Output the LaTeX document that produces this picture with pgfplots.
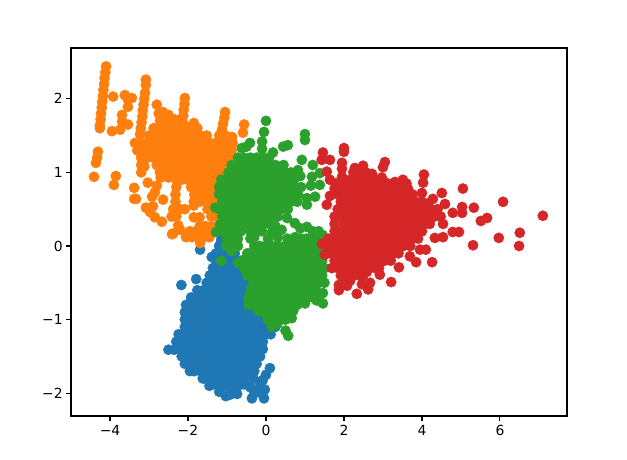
\documentclass[border=0pt]{standalone}
\usepackage{fontspec}
\setmainfont{DejaVu Sans}
\usepackage{pgfplots}
\pgfplotsset{compat=1.18}
\definecolor{tabblue}{HTML}{1F77B4}
\definecolor{taborange}{HTML}{FF7F0E}
\definecolor{tabgreen}{HTML}{2CA02C}
\definecolor{tabred}{HTML}{D62728}
\pgfplotsset{pts/.style={only marks,mark=*,mark size=5.15bp,color=#1,mark options={draw=none,fill=#1}}}
\begin{document}
\begin{tikzpicture}
\path[use as bounding box] (0,0) rectangle (627bp,460bp);
\begin{axis}[at={(71bp,44bp)},anchor=south west,scale only axis,width=496bp,height=368bp,
 xmin=-5,xmax=7.72,ymin=-2.31,ymax=2.69,
 xtick={-4,-2,0,2,4,6},xticklabels={−4,−2,0,2,4,6},
 ytick={-2,-1,0,1,2},yticklabels={−2,−1,0,1,2},
 tick align=outside,tick pos=left,major tick length=4.86bp,
 tick style={black,line width=1.1bp},axis line style={line width=1.1bp},
 ticklabel style={font=\fontsize{13.9bp}{16bp}\selectfont},
 xticklabel style={yshift=-1bp},
]
% blue
\addplot[pts=tabblue] coordinates {
(-2.17,-0.53)(-1.79,-0.45)(-1.69,-0.05)(-1.39,-0.15)(-1.15,0.08)(-1.28,-0.1)(-1.12,-0.1)(-0.96,-0.1)(-0.8,-0.1)(-1.2,0)(-1,0)
(-1.28,-0.2)(-1.12,-0.2)(-0.96,-0.2)(-0.8,-0.2)(-0.64,-0.2)
(-1.36,-0.3)(-1.2,-0.3)(-1.04,-0.3)(-0.88,-0.3)(-0.72,-0.3)(-0.56,-0.3)(-0.4,-0.3)
(-1.44,-0.4)(-1.28,-0.4)(-1.12,-0.4)(-0.96,-0.4)(-0.8,-0.4)(-0.64,-0.4)(-0.48,-0.4)(-0.32,-0.4)
(-1.52,-0.5)(-1.36,-0.5)(-1.2,-0.5)(-1.04,-0.5)(-0.88,-0.5)(-0.72,-0.5)(-0.56,-0.5)(-0.4,-0.5)(-0.24,-0.5)
(-1.76,-0.6)(-1.6,-0.6)(-1.44,-0.6)(-1.28,-0.6)(-1.12,-0.6)(-0.96,-0.6)(-0.8,-0.6)(-0.64,-0.6)(-0.48,-0.6)(-0.32,-0.6)
(-1.92,-0.7)(-1.84,-0.7)(-1.68,-0.7)(-1.52,-0.7)(-1.36,-0.7)(-1.2,-0.7)(-1.04,-0.7)(-0.88,-0.7)(-0.72,-0.7)(-0.56,-0.7)(-0.4,-0.7)(-0.24,-0.7)
(-2.05,-0.8)(-1.92,-0.8)(-1.76,-0.8)(-1.6,-0.8)(-1.44,-0.8)(-1.28,-0.8)(-1.12,-0.8)(-0.96,-0.8)(-0.8,-0.8)(-0.64,-0.8)(-0.48,-0.8)(-0.32,-0.8)
(-2.08,-0.9)(-2,-0.9)(-1.84,-0.9)(-1.68,-0.9)(-1.52,-0.9)(-1.36,-0.9)(-1.2,-0.9)(-1.04,-0.9)(-0.88,-0.9)(-0.72,-0.9)(-0.56,-0.9)(-0.4,-0.9)(-0.24,-0.9)(-0.08,-0.9)
(-2.08,-1)(-1.92,-1)(-1.76,-1)(-1.6,-1)(-1.44,-1)(-1.28,-1)(-1.12,-1)(-0.96,-1)(-0.8,-1)(-0.64,-1)(-0.48,-1)(-0.32,-1)(-0.16,-1)(0,-1)(0.16,-1)
(-2.08,-1.1)(-2,-1.1)(-1.84,-1.1)(-1.68,-1.1)(-1.52,-1.1)(-1.36,-1.1)(-1.2,-1.1)(-1.04,-1.1)(-0.88,-1.1)(-0.72,-1.1)(-0.56,-1.1)(-0.4,-1.1)(-0.24,-1.1)(-0.08,-1.1)(0.08,-1.1)(0.24,-1.1)
(-2.24,-1.2)(-2.08,-1.2)(-1.92,-1.2)(-1.76,-1.2)(-1.6,-1.2)(-1.44,-1.2)(-1.28,-1.2)(-1.12,-1.2)(-0.96,-1.2)(-0.8,-1.2)(-0.64,-1.2)(-0.48,-1.2)(-0.32,-1.2)(-0.16,-1.2)(0,-1.2)(0.12,-1.2)
(-2.3,-1.3)(-2.16,-1.3)(-2,-1.3)(-1.84,-1.3)(-1.68,-1.3)(-1.52,-1.3)(-1.36,-1.3)(-1.2,-1.3)(-1.04,-1.3)(-0.88,-1.3)(-0.72,-1.3)(-0.56,-1.3)(-0.4,-1.3)(-0.24,-1.3)(-0.08,-1.3)
(-2.5,-1.41)(-2.35,-1.41)(-2.24,-1.4)(-2.08,-1.4)(-1.92,-1.4)(-1.76,-1.4)(-1.6,-1.4)(-1.44,-1.4)(-1.28,-1.4)(-1.12,-1.4)(-0.96,-1.4)(-0.8,-1.4)(-0.64,-1.4)(-0.48,-1.4)(-0.32,-1.4)(-0.16,-1.4)(-0.08,-1.4)
(-2.16,-1.5)(-2,-1.5)(-1.84,-1.5)(-1.68,-1.5)(-1.52,-1.5)(-1.36,-1.5)(-1.2,-1.5)(-1.04,-1.5)(-0.88,-1.5)(-0.72,-1.5)(-0.56,-1.5)(-0.4,-1.5)(-0.24,-1.5)(-0.15,-1.5)
(-2.08,-1.6)(-1.92,-1.6)(-1.76,-1.6)(-1.6,-1.6)(-1.44,-1.6)(-1.28,-1.6)(-1.12,-1.6)(-0.96,-1.6)(-0.8,-1.6)(-0.64,-1.6)(-0.48,-1.6)(-0.32,-1.6)(-0.24,-1.6)
(-1.95,-1.7)(-1.84,-1.7)(-1.68,-1.7)(-1.52,-1.7)(-1.36,-1.7)(-1.2,-1.7)(-1.04,-1.7)(-0.88,-1.7)(-0.72,-1.7)(-0.56,-1.7)(-0.4,-1.7)(-0.3,-1.7)(0.1,-1.66)(0,-1.75)(-0.08,-1.82)
(-1.62,-1.8)(-1.6,-1.8)(-1.44,-1.8)(-1.28,-1.8)(-1.12,-1.8)(-0.96,-1.8)(-0.8,-1.8)(-0.64,-1.8)(-0.48,-1.8)(-0.32,-1.8)(-0.16,-1.85)
(-1.45,-1.9)(-1.36,-1.88)(-1.2,-1.9)(-1.04,-1.9)(-0.88,-1.9)(-0.72,-1.9)(-0.56,-1.88)(-0.4,-1.92)(-0.2,-1.95)(-0.03,-1.95)
(-1.2,-1.98)(-1.03,-2.04)(-0.92,-2.02)(-0.74,-2.01)(-0.36,-2.07)(-0.3,-2)(-0.05,-2.07)(-0.12,-2)
};
% orange
\addplot[pts=taborange] coordinates {
(-4.1,2.44)(-4.12,2.36)(-4.14,2.28)(-4.15,2.2)(-4.17,2.12)(-4.18,2.04)(-4.2,1.96)(-4.21,1.88)(-4.23,1.8)(-4.24,1.72)(-4.26,1.64)(-4.26,1.6)
(-4.31,1.28)(-4.33,1.2)(-4.36,1.13)(-4.41,0.94)(-3.85,0.95)(-3.9,0.83)(-3.38,0.79)(-3.38,0.64)(-3.33,0.64)
(-3.08,0.52)(-2.9,0.54)(-2.97,0.46)(-2.85,0.39)(-2.67,0.33)(-3.03,0.86)(-2.8,0.82)(-2.92,0.67)(-2.64,0.63)(-2.85,0.73)
(-3.92,2.03)(-3.62,2.05)(-3.44,2.01)(-3.54,1.89)(-3.69,1.78)(-3.69,1.69)(-3.54,1.65)(-3.74,1.58)(-3.95,1.56)(-3.55,2)
(-3.08,2.26)(-3.08,2.19)(-3.1,2.08)(-3.12,2)(-3.14,1.92)(-3.16,1.84)(-3.17,1.76)(-3.19,1.68)(-3.21,1.6)(-3.23,1.52)
(-2.08,2.01)(-2.09,1.93)(-2.11,1.85)(-2.12,1.77)(-2.14,1.69)(-2.15,1.62)
(-1.05,1.82)(-1.07,1.74)(-1.1,1.66)(-1.13,1.58)(-0.56,1.65)(-0.59,1.54)(-2.8,1.92)(-2.64,1.82)(-1.85,1.67)(-0.87,1.48)(-2.75,1.8)(-2.5,1.78)(-2.35,1.72)(-1.95,1.62)
(-2.72,1.7)(-2.56,1.7)(-2.4,1.7)
(-2.88,1.6)(-2.72,1.6)(-2.56,1.6)(-2.4,1.6)(-2.24,1.6)(-1.92,1.6)(-1.76,1.6)
(-3,1.5)(-2.8,1.5)(-2.64,1.5)(-2.48,1.5)(-2.32,1.5)(-2.16,1.5)(-2,1.5)(-1.84,1.5)(-1.68,1.5)(-1.52,1.5)(-1.2,1.5)(-1.04,1.5)
(-3.36,1.4)(-3.2,1.4)(-3.04,1.4)(-2.88,1.4)(-2.72,1.4)(-2.56,1.4)(-2.4,1.4)(-2.24,1.4)(-2.08,1.4)(-1.92,1.4)(-1.76,1.4)(-1.6,1.4)(-1.44,1.4)(-1.28,1.4)(-1.12,1.4)(-0.96,1.4)(-0.85,1.4)
(-3.3,1.3)(-3.12,1.3)(-2.96,1.3)(-2.8,1.3)(-2.64,1.3)(-2.48,1.3)(-2.32,1.3)(-2.16,1.3)(-2,1.3)(-1.84,1.3)(-1.68,1.3)(-1.52,1.3)(-1.36,1.3)(-1.2,1.3)(-1.04,1.3)(-0.88,1.3)
(-3.2,1.2)(-3.04,1.2)(-2.88,1.2)(-2.72,1.2)(-2.56,1.2)(-2.4,1.2)(-2.24,1.2)(-2.08,1.2)(-1.92,1.2)(-1.76,1.2)(-1.6,1.2)(-1.44,1.2)(-1.28,1.2)(-1.12,1.2)(-0.96,1.2)
(-3.2,1.1)(-3.12,1.08)(-2.8,1.1)(-2.64,1.1)(-2.48,1.1)(-2.32,1.1)(-2.16,1.1)(-2,1.1)(-1.84,1.1)(-1.68,1.1)(-1.52,1.1)(-1.36,1.1)(-1.2,1.1)(-1.04,1.1)
(-3.2,1)(-2.72,1)(-2.56,1)(-2.4,1)(-2.24,1)(-2.08,1)(-1.92,1)(-1.76,1)(-1.6,1)(-1.44,1)(-1.28,1)(-1.12,1)
(-2.7,0.93)(-2.5,0.93)(-2.3,0.9)(-2.16,0.9)(-2,0.9)(-1.84,0.9)(-1.68,0.9)(-1.52,0.9)(-1.36,0.9)(-1.2,0.9)
(-2.3,0.8)(-1.92,0.8)(-1.76,0.8)(-1.6,0.8)(-1.44,0.8)(-1.28,0.8)
(-2.32,0.7)(-1.84,0.7)(-1.68,0.7)(-1.52,0.7)(-1.36,0.7)(-1.2,0.7)
(-2.32,0.6)(-1.85,0.6)(-1.7,0.6)(-1.5,0.6)(-1.36,0.6)(-1.2,0.6)
(-2.38,0.5)(-2.2,0.5)(-2.08,0.5)(-1.85,0.55)(-1.5,0.5)(-1.36,0.5)(-1.2,0.5)
(-2.42,0.4)(-2.3,0.4)(-1.85,0.39)(-1.7,0.39)(-1.4,0.4)(-1.25,0.4)
(-2.25,0.28)(-1.7,0.27)(-1.55,0.27)(-1.4,0.27)(-1.25,0.27)
(-2.38,0.17)(-2.2,0.22)(-1.95,0.2)(-1.8,0.2)(-1.65,0.2)(-1.5,0.2)(-1.35,0.2)
(-2.41,0.16)(-2.05,0.12)(-1.9,0.12)(-1.75,0.12)(-1.6,0.12)(-1.45,0.12)(-1.69,0.04)
};
% green
\addplot[pts=tabgreen] coordinates {
(0,1.7)(-0.05,1.55)(-0.1,1.42)(-0.41,1.4)(-0.62,1.33)(1,1.52)(1,1.44)(0.56,1.37)(0.44,1.35)(0.18,1.27)(-0.1,1.32)(-0.5,1.35)
(0.92,1.17)(1.2,1.1)(0.82,1.03)(1.38,0.99)(1.18,0.94)(0.54,0.38)(0.74,0.31)(1.05,0.56)(1.05,0.65)(1.26,0.67)(1.38,0.83)(0.88,0.95)(1.15,0.82)(0.9,0.8)
(-0.72,1.2)(-0.56,1.2)(-0.4,1.2)(-0.24,1.2)(-0.08,1.2)(0.08,1.2)
(-0.88,1.1)(-0.72,1.1)(-0.56,1.1)(-0.4,1.1)(-0.24,1.1)(-0.08,1.1)(0.08,1.1)(0.24,1.1)(0.45,1.1)
(-0.96,1)(-0.8,1)(-0.64,1)(-0.48,1)(-0.32,1)(-0.16,1)(0,1)(0.16,1)(0.32,1)(0.48,1)(0.64,1)
(-1.15,0.9)(-1.04,0.9)(-0.88,0.9)(-0.72,0.9)(-0.56,0.9)(-0.4,0.9)(-0.24,0.9)(-0.08,0.9)(0.08,0.9)(0.24,0.9)(0.4,0.9)(0.56,0.9)(0.72,0.9)
(-1.2,0.8)(-1.12,0.8)(-0.96,0.8)(-0.8,0.8)(-0.64,0.8)(-0.48,0.8)(-0.32,0.8)(-0.16,0.8)(0,0.8)(0.16,0.8)(0.32,0.8)(0.48,0.8)(0.64,0.8)(0.75,0.8)
(-1.2,0.7)(-1.04,0.7)(-0.88,0.7)(-0.72,0.7)(-0.56,0.7)(-0.4,0.7)(-0.24,0.7)(-0.08,0.7)(0.08,0.7)(0.24,0.7)(0.4,0.7)(0.56,0.7)(0.72,0.7)(0.82,0.7)
(-1.12,0.6)(-0.96,0.6)(-0.8,0.6)(-0.64,0.6)(-0.48,0.6)(-0.32,0.6)(-0.16,0.6)(0,0.6)(0.16,0.6)(0.32,0.6)(0.48,0.6)(0.64,0.6)(0.8,0.6)
(-1.3,0.52)(-1.2,0.5)(-1.04,0.5)(-0.88,0.5)(-0.72,0.5)(-0.56,0.5)(-0.4,0.5)(-0.24,0.5)(-0.08,0.5)(0.08,0.5)(0.24,0.5)(0.4,0.5)(0.56,0.5)
(-1.12,0.4)(-0.96,0.4)(-0.8,0.4)(-0.64,0.4)(-0.48,0.4)(-0.32,0.4)(-0.16,0.4)(0,0.4)(0.16,0.4)(0.3,0.4)
(-1.18,0.29)(-1.04,0.3)(-0.88,0.3)(-0.72,0.3)(-0.56,0.3)(-0.4,0.3)(-0.24,0.3)(-0.08,0.3)(0.08,0.3)(0.24,0.27)(0.4,0.22)
(-1.28,0.19)(-1.12,0.2)(-0.96,0.2)(-0.8,0.2)(-0.64,0.2)(-0.4,0.2)(-0.24,0.2)(-0.1,0.2)(0.15,0.18)(1.2,0.2)(1.35,0.2)(1.45,0.15)(0.88,0.24)
(-1,0.1)(-0.88,0.1)(-0.72,0.1)(-0.4,0.1)(-0.3,0.12)(0.05,0.1)(0.3,0.12)(0.55,0.1)(0.75,0.12)(1.05,0.26)(0.9,0.1)(1.04,0.1)(1.2,0.1)(1.36,0.1)
(-1.02,0)(-0.88,0)(-0.72,0)(-0.3,0)(-0.16,0)(0,0)(0.16,0)(0.32,0)(0.48,0)(0.64,0)(0.8,0)(0.96,0)(1.12,0)(1.28,0)(1.44,0)
(-0.87,-0.07)(-0.48,-0.1)(-0.4,-0.1)(-0.24,-0.1)(-0.08,-0.1)(0.08,-0.1)(0.24,-0.1)(0.4,-0.1)(0.56,-0.1)(0.72,-0.1)(0.88,-0.1)(1.04,-0.1)(1.2,-0.1)(1.36,-0.1)(1.45,-0.1)
(-1.15,-0.2)(-0.72,-0.23)(-0.6,-0.2)(-0.48,-0.2)(-0.32,-0.2)(-0.16,-0.2)(0,-0.2)(0.16,-0.2)(0.32,-0.2)(0.48,-0.2)(0.64,-0.2)(0.8,-0.2)(0.96,-0.2)(1.12,-0.2)(1.28,-0.2)(1.44,-0.2)
(-0.56,-0.3)(-0.4,-0.3)(-0.24,-0.3)(-0.08,-0.3)(0.08,-0.3)(0.24,-0.3)(0.4,-0.3)(0.56,-0.3)(0.72,-0.3)(0.88,-0.3)(1.04,-0.3)(1.2,-0.3)(1.36,-0.3)(1.5,-0.3)
(-0.48,-0.4)(-0.32,-0.4)(-0.16,-0.4)(0,-0.4)(0.16,-0.4)(0.32,-0.4)(0.48,-0.4)(0.64,-0.4)(0.8,-0.4)(0.96,-0.4)(1.12,-0.4)(1.28,-0.4)(1.44,-0.4)
(-0.32,-0.5)(-0.24,-0.5)(-0.08,-0.5)(0.08,-0.5)(0.24,-0.5)(0.4,-0.5)(0.56,-0.5)(0.72,-0.5)(0.88,-0.5)(1.04,-0.5)(1.2,-0.5)(1.36,-0.5)(1.5,-0.5)
(-0.4,-0.6)(-0.32,-0.6)(-0.16,-0.6)(0,-0.6)(0.16,-0.6)(0.32,-0.6)(0.48,-0.6)(0.64,-0.6)(0.8,-0.6)(0.96,-0.6)(1.12,-0.6)(1.28,-0.6)(1.46,-0.64)
(-0.45,-0.7)(-0.4,-0.7)(-0.24,-0.7)(-0.08,-0.7)(0.08,-0.7)(0.24,-0.7)(0.4,-0.7)(0.56,-0.7)(0.72,-0.7)(0.88,-0.7)(1.04,-0.7)(1.2,-0.7)(1.36,-0.7)
(-0.45,-0.8)(-0.32,-0.8)(-0.16,-0.8)(0,-0.8)(0.16,-0.8)(0.32,-0.8)(0.48,-0.8)(0.64,-0.8)(0.8,-0.8)(1,-0.78)(1.46,-0.78)(1.3,-0.74)
(-0.2,-0.88)(-0.08,-0.9)(0.08,-0.9)(0.24,-0.9)(0.4,-0.9)(0.56,-0.9)(0.7,-0.88)
(0.05,-1)(0.16,-1)(0.32,-1)(0.5,-1)(0.66,-0.98)(0.15,-1.1)(0.3,-1.05)(0.5,-1.15)(0.57,-1.22)
};
% red
\addplot[pts=tabred] coordinates {
(2,1.33)(2,1.28)(1.46,1.27)(1.64,1.17)(1.43,1.17)(1.95,1.13)(1.95,1.05)(1.95,0.94)(1.56,1.01)(1.64,0.9)(1.64,0.68)(1.56,0.56)
(2.49,1.09)(2.28,1.06)(2.67,0.97)(3.05,1.14)(3,1.07)(2.97,0.93)(3.51,0.9)(3.31,0.87)(3.64,0.78)(4.05,0.97)(4.03,0.86)(4,0.72)
(4.51,0.72)(5.05,0.78)(6.08,0.6)(7.1,0.41)(4.28,0.64)(4.59,0.57)(5.03,0.53)(5.03,0.45)(5.33,0.52)(5.67,0.38)(5.51,0.34)
(6.51,0.18)(6.49,0)(5.97,0.11)(5.31,0.01)(4.95,0.19)(4.79,0.19)(4.54,0.12)(4.33,0.11)(4.54,0.3)(4.79,0.45)(4.26,-0.22)(3.85,-0.22)(4.1,-0.05)(3.95,-0.05)
(3.69,-0.14)(3.41,-0.29)(3.21,-0.49)(2.92,-0.39)(2.67,-0.5)(2.62,-0.59)(2.46,-0.52)(2.33,-0.65)(1.87,-0.6)(1.87,-0.53)(2.08,-0.54)(2.59,-0.35)
(1.44,0.03)(1.51,-0.12)(1.69,-0.3)
(2.24,1)(2.4,1)(2.56,1)(2.72,0.98)
(1.8,0.85)(2,0.9)(2.16,0.9)(2.32,0.9)(2.48,0.9)(2.64,0.9)(2.8,0.9)(2.96,0.9)(3.12,0.85)(3.28,0.85)(3.44,0.85)(3.6,0.85)
(1.76,0.78)(1.92,0.8)(2.08,0.8)(2.24,0.8)(2.4,0.8)(2.56,0.8)(2.72,0.8)(2.88,0.8)(3.04,0.8)(3.2,0.8)(3.36,0.8)(3.52,0.8)(3.6,0.75)
(1.84,0.7)(2,0.7)(2.16,0.7)(2.32,0.7)(2.48,0.7)(2.64,0.7)(2.8,0.7)(2.96,0.7)(3.12,0.7)(3.28,0.7)(3.44,0.7)(3.6,0.7)(3.76,0.7)
(1.92,0.6)(2.08,0.6)(2.24,0.6)(2.4,0.6)(2.56,0.6)(2.72,0.6)(2.88,0.6)(3.04,0.6)(3.2,0.6)(3.36,0.6)(3.52,0.6)(3.68,0.6)(3.84,0.6)(4,0.6)(4.16,0.58)
(1.84,0.5)(2,0.5)(2.16,0.5)(2.32,0.5)(2.48,0.5)(2.64,0.5)(2.8,0.5)(2.96,0.5)(3.12,0.5)(3.28,0.5)(3.44,0.5)(3.6,0.5)(3.76,0.5)(3.92,0.5)(4.08,0.5)(4.24,0.5)(4.4,0.5)
(1.76,0.4)(1.92,0.4)(2.08,0.4)(2.24,0.4)(2.4,0.4)(2.56,0.4)(2.72,0.4)(2.88,0.4)(3.04,0.4)(3.2,0.4)(3.36,0.4)(3.52,0.4)(3.68,0.4)(3.84,0.4)(4,0.4)(4.16,0.4)(4.32,0.4)(4.48,0.4)
(1.76,0.3)(2,0.3)(2.16,0.3)(2.32,0.3)(2.48,0.3)(2.64,0.3)(2.8,0.3)(2.96,0.3)(3.12,0.3)(3.28,0.3)(3.44,0.3)(3.6,0.3)(3.76,0.3)(3.92,0.3)(4.08,0.3)(4.2,0.3)
(1.76,0.2)(1.92,0.2)(2.08,0.2)(2.24,0.2)(2.4,0.2)(2.56,0.2)(2.72,0.2)(2.88,0.2)(3.04,0.2)(3.2,0.2)(3.36,0.2)(3.52,0.2)(3.68,0.2)(3.84,0.2)(4,0.2)
(1.6,0.1)(1.68,0.1)(1.84,0.1)(2,0.1)(2.16,0.1)(2.32,0.1)(2.48,0.1)(2.64,0.1)(2.8,0.1)(2.96,0.1)(3.12,0.1)(3.28,0.1)(3.44,0.1)(3.6,0.1)(3.76,0.1)(3.9,0.1)
(1.6,0)(1.76,0)(1.92,0)(2.08,0)(2.24,0)(2.4,0)(2.56,0)(2.72,0)(2.88,0)(3.04,0)(3.2,0)(3.36,0)(3.52,0)(3.7,0)
(1.55,-0.1)(1.68,-0.1)(1.84,-0.1)(2,-0.1)(2.16,-0.1)(2.32,-0.1)(2.48,-0.1)(2.64,-0.1)(2.8,-0.1)(2.96,-0.1)(3.12,-0.1)(3.28,-0.1)(3.4,-0.1)
(1.76,-0.2)(1.92,-0.2)(2.08,-0.2)(2.24,-0.2)(2.4,-0.2)(2.56,-0.2)(2.72,-0.2)(2.88,-0.2)(3.04,-0.2)(3.2,-0.2)
(1.84,-0.3)(2,-0.3)(2.16,-0.3)(2.32,-0.3)(2.48,-0.3)(2.64,-0.3)(2.8,-0.3)(2.9,-0.3)
(1.92,-0.4)(2.08,-0.4)(2.24,-0.4)(2.4,-0.4)(2.5,-0.4)
(2,-0.47)(2.16,-0.47)
};
\end{axis}
\end{tikzpicture}
\end{document}
